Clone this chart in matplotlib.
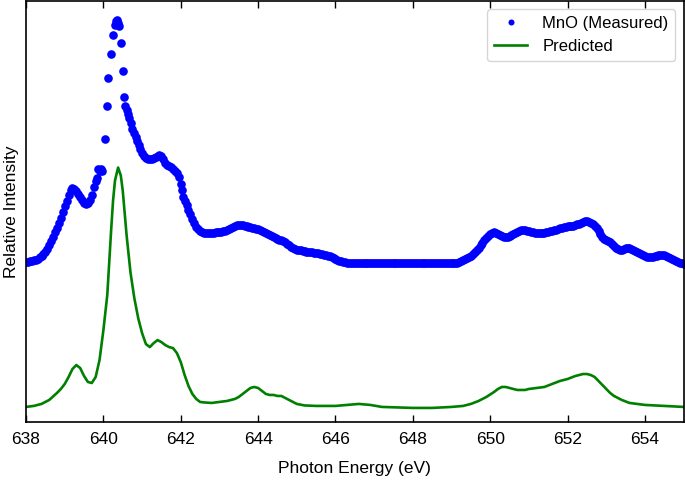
import numpy as np
import matplotlib.pyplot as plt

plt.rcParams['font.family'] = ['Liberation Sans', 'DejaVu Sans']

# measured MnO spectrum (energy in eV, relative intensity)
e_meas_a = np.round(np.arange(638.0, 639.801, 0.05), 2)
i_meas_a = [1.60, 1.60, 1.61, 1.61, 1.62, 1.62, 1.63, 1.65, 1.66, 1.68,
            1.70, 1.73, 1.77, 1.81, 1.85, 1.90, 1.94, 1.99, 2.04, 2.10,
            2.16, 2.21, 2.27, 2.32, 2.34, 2.33, 2.31, 2.28, 2.25, 2.22,
            2.19, 2.18, 2.19, 2.22, 2.27, 2.35, 2.42]

e_meas_b = [639.83, 639.86, 639.90, 639.93, 639.96, 640.04, 640.09, 640.12, 640.19, 640.25,
            640.29, 640.32, 640.35, 640.37, 640.40, 640.45, 640.50, 640.53, 640.57, 640.60,
            640.63, 640.67, 640.71, 640.75, 640.79, 640.83, 640.87, 640.91, 640.95, 641.00,
            641.05, 641.10, 641.15, 641.20, 641.25, 641.30, 641.35, 641.40, 641.45, 641.50,
            641.55, 641.60, 641.65, 641.70, 641.75, 641.80, 641.85, 641.90, 641.95, 642.00,
            642.02, 642.05, 642.10, 642.15, 642.20, 642.25, 642.30, 642.35, 642.40, 642.45,
            642.50, 642.55, 642.60, 642.65]
i_meas_b = [2.45, 2.54, 2.52, 2.54, 2.52, 2.84, 3.17, 3.45, 3.69, 3.88,
            3.98, 4.02, 4.03, 4.00, 3.97, 3.80, 3.52, 3.26, 3.17, 3.13,
            3.09, 3.05, 3.00, 2.94, 2.90, 2.86, 2.82, 2.78, 2.74, 2.70,
            2.67, 2.65, 2.64, 2.64, 2.64, 2.65, 2.66, 2.67, 2.68, 2.67,
            2.64, 2.60, 2.58, 2.57, 2.56, 2.54, 2.52, 2.50, 2.46, 2.39,
            2.32, 2.25, 2.21, 2.17, 2.12, 2.08, 2.03, 1.99, 1.95, 1.93,
            1.91, 1.90, 1.89, 1.89]

i_meas_c = [1.89, 1.89, 1.89, 1.89, 1.90, 1.90, 1.90, 1.90,
            1.91, 1.91, 1.92, 1.93, 1.94, 1.95, 1.96, 1.97,
            1.97, 1.97, 1.97, 1.96, 1.96, 1.95, 1.95, 1.94,
            1.94, 1.93, 1.93, 1.92, 1.91, 1.90, 1.89, 1.88,
            1.87, 1.86, 1.85, 1.84, 1.83, 1.82, 1.82, 1.81,
            1.80, 1.78, 1.77, 1.75, 1.74, 1.73, 1.72, 1.72,
            1.72, 1.71, 1.71, 1.70, 1.70, 1.70, 1.70, 1.69,
            1.69, 1.69, 1.68, 1.68, 1.67, 1.67, 1.66, 1.66,
            1.65, 1.64, 1.63, 1.62, 1.61, 1.61, 1.60, 1.60,
            1.59, 1.59, 1.59, 1.59,
            1.59, 1.59, 1.59, 1.59, 1.59, 1.59, 1.59, 1.59, 1.59, 1.59,
            1.59, 1.59, 1.59, 1.59, 1.59, 1.59, 1.59, 1.59, 1.59, 1.59,
            1.59, 1.59, 1.59, 1.59, 1.59, 1.59, 1.59, 1.59, 1.59, 1.59,
            1.59, 1.59, 1.59, 1.59, 1.59, 1.59, 1.59, 1.59, 1.59, 1.59,
            1.59, 1.59, 1.59, 1.59, 1.59, 1.59, 1.59, 1.59, 1.59, 1.59,
            1.59, 1.59, 1.59, 1.59,
            1.60, 1.61, 1.62, 1.63, 1.64, 1.65, 1.66, 1.68,
            1.70, 1.72, 1.74, 1.77, 1.79, 1.82, 1.84, 1.86,
            1.88, 1.89, 1.90, 1.89, 1.88, 1.87, 1.86, 1.85,
            1.85, 1.85, 1.86, 1.87, 1.88, 1.89, 1.90, 1.91,
            1.92, 1.92, 1.92, 1.91, 1.91, 1.90, 1.90, 1.89,
            1.89, 1.89, 1.89, 1.89, 1.89, 1.90, 1.90, 1.91,
            1.91, 1.92, 1.92, 1.93, 1.94, 1.94, 1.95, 1.95,
            1.96, 1.96, 1.96, 1.96, 1.97, 1.98, 1.98, 1.99,
            2.00, 2.01, 2.01, 2.00, 1.99, 1.98, 1.96, 1.94,
            1.91, 1.88, 1.85, 1.83, 1.82, 1.81, 1.80, 1.78,
            1.76, 1.74, 1.73, 1.72, 1.72, 1.73, 1.74, 1.74,
            1.74, 1.73, 1.72, 1.71, 1.70, 1.69, 1.68, 1.67,
            1.66, 1.65, 1.65, 1.65, 1.65, 1.66, 1.66, 1.67,
            1.67, 1.67, 1.67, 1.66, 1.65, 1.64, 1.63, 1.62,
            1.61, 1.60, 1.59, 1.59, 1.58]
e_meas_c = np.round(642.70 + 0.05 * np.arange(len(i_meas_c)), 2)

e_meas = np.concatenate([e_meas_a, e_meas_b, e_meas_c])
i_meas = np.concatenate([i_meas_a, i_meas_b, i_meas_c])

# predicted spectrum
e_pred = [638.0, 638.2, 638.4, 638.6, 638.8, 638.9, 639.0, 639.1, 639.2, 639.3,
          639.4, 639.5, 639.6, 639.7, 639.8, 639.9, 640.0, 640.1, 640.2, 640.25,
          640.3, 640.38, 640.45, 640.5, 640.6, 640.7, 640.8, 640.9, 641.0, 641.1,
          641.2, 641.3, 641.4, 641.5, 641.6, 641.7, 641.8, 641.9, 642.0, 642.1,
          642.2, 642.3, 642.4, 642.5, 642.6, 642.8, 643.0, 643.2, 643.4, 643.5,
          643.6, 643.7, 643.8, 643.9, 644.0, 644.1, 644.2, 644.3, 644.4, 644.5,
          644.6, 644.7, 644.8, 644.9, 645.0, 645.2, 645.5, 646.0, 646.3, 646.6,
          646.9, 647.2, 647.6, 648.0, 648.5, 649.0, 649.3, 649.5, 649.7, 649.9,
          650.1, 650.2, 650.3, 650.4, 650.5, 650.6, 650.7, 650.8, 650.9, 651.0,
          651.2, 651.4, 651.6, 651.8, 652.0, 652.2, 652.4, 652.5, 652.6, 652.7,
          652.8, 652.9, 653.0, 653.1, 653.2, 653.4, 653.6, 653.8, 654.0, 654.5,
          655.0]
i_pred = [0.15, 0.16, 0.18, 0.22, 0.29, 0.33, 0.38, 0.45, 0.53, 0.57,
          0.54, 0.46, 0.40, 0.39, 0.45, 0.62, 0.92, 1.27, 1.92, 2.22,
          2.42, 2.55, 2.47, 2.32, 1.87, 1.50, 1.24, 1.04, 0.89, 0.78,
          0.75, 0.79, 0.82, 0.80, 0.77, 0.75, 0.74, 0.69, 0.60, 0.47,
          0.36, 0.28, 0.23, 0.20, 0.195, 0.19, 0.20, 0.21, 0.23, 0.25,
          0.28, 0.31, 0.34, 0.35, 0.34, 0.31, 0.28, 0.27, 0.27, 0.26,
          0.26, 0.24, 0.22, 0.20, 0.18, 0.165, 0.16, 0.16, 0.17, 0.18,
          0.17, 0.15, 0.145, 0.14, 0.14, 0.15, 0.16, 0.18, 0.21, 0.25,
          0.30, 0.33, 0.35, 0.35, 0.34, 0.33, 0.32, 0.32, 0.32, 0.33,
          0.34, 0.35, 0.38, 0.41, 0.43, 0.46, 0.48, 0.48, 0.47, 0.45,
          0.41, 0.37, 0.33, 0.29, 0.26, 0.22, 0.19, 0.18, 0.17, 0.16,
          0.15]

fig = plt.figure(figsize=(6.85, 4.9), dpi=100)
ax = fig.add_axes([0.038, 0.139, 0.96, 0.859])

ax.plot(e_meas, i_meas, 'o', color='#0000ff', ms=6.2, mec='none', label='MnO (Measured)')
ax.plot(e_pred, i_pred, color='#008000', lw=1.9, label='Predicted')

ax.set_xlim(638, 655)
ax.set_ylim(0, 4.22)
ax.set_xticks(np.arange(638, 655, 2))
ax.set_yticks([])
ax.tick_params(axis='x', direction='in', top=True, labelsize=12.5, length=5, width=1, pad=7)
for s in ax.spines.values():
    s.set_linewidth(1.2)
ax.set_xlabel('Photon Energy (eV)', fontsize=12.5, labelpad=10)
ax.set_ylabel('Relative Intensity', fontsize=12.5, labelpad=5)

ax.legend(loc='upper right', fontsize=12, frameon=True, fancybox=True,
          edgecolor='#cccccc', markerscale=0.7, handlelength=2.0,
          handletextpad=0.9, borderaxespad=0.5)

fig.savefig('out.png', dpi=100)
